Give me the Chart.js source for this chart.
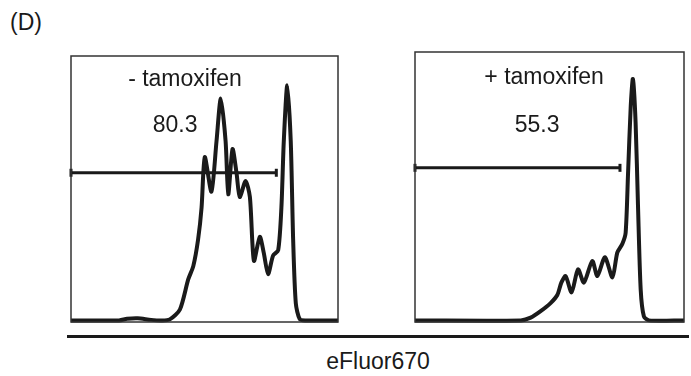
<!DOCTYPE html>
<html>
<head>
<meta charset="utf-8">
<script src="https://cdn.jsdelivr.net/npm/chart.js@4"></script>
<style>
    body { margin: 0; background: #fff; width: 691px; height: 376px; position: relative; overflow: hidden; font-family: "Liberation Sans", Arial, sans-serif; color: #1a1a1a; }
    .wrap { position: absolute; }
    #panelLabel { position: absolute; left: 10px; top: 9px; font-size: 23px; }
    #axisLine { position: absolute; left: 67px; top: 335px; width: 622px; height: 3px; background: #1a1a1a; }
    #axisTitle { position: absolute; left: 0; width: 756px; top: 348px; text-align: center; font-size: 23px; }
</style>
</head>
<body>
<div id="panelLabel">(D)</div>
<div class="wrap" style="left:61px; top:46px; width:287px; height:286px;"><canvas id="left"></canvas></div>
<div class="wrap" style="left:405px; top:42px; width:286px; height:290px;"><canvas id="right"></canvas></div>
<div id="axisLine"></div>
<div id="axisTitle">eFluor670</div>

<script>
// histogram traces, x and y as % of the plot box
const leftX = [0, 18, 21, 25, 30, 34, 37, 40.8, 43.9, 45.8, 47.6, 48.9, 50.1, 52.6, 54.5, 56.1, 57.9, 58.9, 60.5, 62, 63.2, 65.4, 67, 68.5, 70.7, 72.2, 73.8, 75.7, 77.6, 78.8, 79.7, 81, 82.3, 83.2, 84.2, 85.7, 88, 100];
const leftY = [0.6, 0.6, 1.2, 1.4, 0.8, 0.6, 1, 4.7, 16, 21, 31, 43, 62, 49, 68, 84, 68, 48, 65, 56, 47, 53, 47, 23, 32, 26, 18, 25, 27, 43, 68, 89, 68, 31, 7, 1, 0.6, 0.6];
const rightX = [0, 39.3, 43, 46.7, 50.4, 52.9, 54.4, 56, 58.2, 60.6, 62.8, 65.9, 67.8, 70.6, 73.4, 75.2, 77.1, 78.3, 79.2, 80.2, 81, 82, 82.9, 83.9, 85.1, 87, 100];
const rightY = [0.6, 0.6, 1.6, 4, 7, 10, 14.6, 17, 11, 19.5, 14.6, 22.6, 17, 24, 16.5, 25.7, 29, 33, 55, 80, 90, 74, 43, 12, 2, 0.6, 0.6];

// gated region (start, end) and gate height
const leftGate = [0, 76.9];
const leftGateY = 56.1;
const rightGate = [0, 76.2];
const rightGateY = 57.1;

const leftLabels = ['- tamoxifen', '80.3'];
const rightLabels = ['+ tamoxifen', '55.3'];

const ink = '#1a1a1a';

// draws the box and text labels at data positions
const boxPlugin = {
    id: 'boxPlugin',
    afterDraw(chart, args, opts) {
        const ctx = chart.ctx;
        const a = chart.chartArea;
        const xs = chart.scales.x, ys = chart.scales.y;
        ctx.save();
        ctx.strokeStyle = '#333';
        ctx.lineWidth = 1.5;
        ctx.strokeRect(a.left, a.top, a.right - a.left, a.bottom - a.top);
        ctx.fillStyle = ink;
        ctx.font = '23px "Liberation Sans", Arial, sans-serif';
        ctx.textAlign = 'center';
        ctx.textBaseline = 'middle';
        opts.texts.forEach(t => {
            ctx.fillText(t.text, xs.getPixelForValue(t.x), ys.getPixelForValue(t.y));
        });
        ctx.restore();
    }
};

function makeChart(id, xs, ys, gate, gateY, texts, pad) {
    const ctx = document.getElementById(id).getContext('2d');
    return new Chart(ctx, {
        type: 'line',
        data: {
            datasets: [{
                data: xs.map((x, i) => ({ x: x, y: ys[i] })),
                borderColor: ink,
                borderWidth: 4,
                pointRadius: 0,
                tension: 0.25,
                fill: false
            }, {
                data: gate.map(x => ({ x: x, y: gateY })),
                borderColor: ink,
                borderWidth: 3,
                pointStyle: 'line',
                rotation: 90,
                pointRadius: 4,
                pointBorderWidth: 3,
                pointBorderColor: ink
            }]
        },
        options: {
            responsive: true,
            maintainAspectRatio: false,
            animation: false,
            layout: { padding: pad },
            plugins: {
                legend: { display: false },
                tooltip: { enabled: false },
                boxPlugin: { texts: texts }
            },
            scales: {
                x: { type: 'linear', min: 0, max: 100, display: false },
                y: { min: 0, max: 100, display: false }
            },
            clip: false
        },
        plugins: [boxPlugin]
    });
}

makeChart('left', leftX, leftY, leftGate, leftGateY, [
    { text: leftLabels[0], x: 42.7, y: 91 },
    { text: leftLabels[1], x: 39, y: 73.7 }
], { left: 10, top: 10, right: 10, bottom: 10 });

makeChart('right', rightX, rightY, rightGate, rightGateY, [
    { text: rightLabels[0], x: 48, y: 90.4 },
    { text: rightLabels[1], x: 45.4, y: 72.6 }
], { left: 10, top: 10, right: 5, bottom: 10 });
</script>
</body>
</html>
